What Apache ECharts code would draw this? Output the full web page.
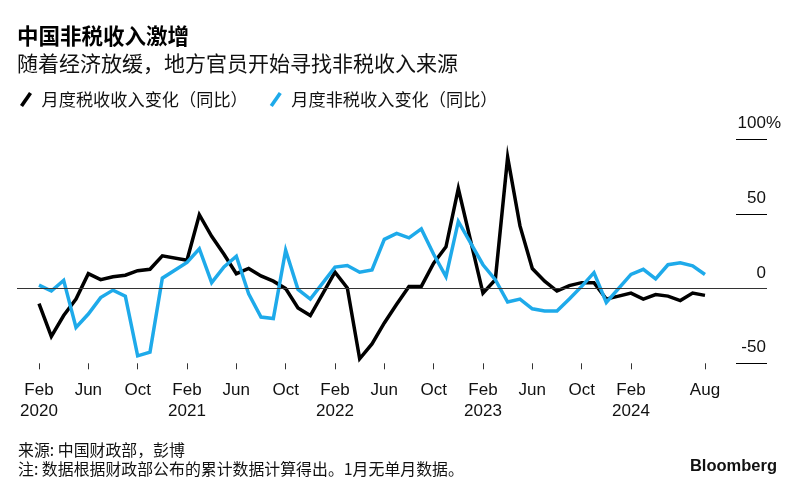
<!DOCTYPE html>
<html><head><meta charset="utf-8">
<script src="https://cdn.jsdelivr.net/npm/echarts@6/dist/echarts.min.js"></script>
<style>html,body{margin:0;padding:0;background:#fff}#c{width:800px;height:495px}</style>
</head><body><div id="c"></div>
<script>
// Months with data (January has no single-month figure)
const months = [
  '2020-02','2020-03','2020-04','2020-05','2020-06','2020-07','2020-08','2020-09','2020-10','2020-11','2020-12',
  '2021-02','2021-03','2021-04','2021-05','2021-06','2021-07','2021-08','2021-09','2021-10','2021-11','2021-12',
  '2022-02','2022-03','2022-04','2022-05','2022-06','2022-07','2022-08','2022-09','2022-10','2022-11','2022-12',
  '2023-02','2023-03','2023-04','2023-05','2023-06','2023-07','2023-08','2023-09','2023-10','2023-11','2023-12',
  '2024-02','2024-03','2024-04','2024-05','2024-06','2024-07','2024-08'
];
// 月度税收收入变化（同比）
const taxRevenue = [
  -10, -32, -18, -7, 10, 6, 8, 9, 12, 13, 22,
  19, 49.5, 35, 23, 10, 13.5, 8.5, 5, 0, -13, -18,
  11, 0.5, -47, -37, -23, -10.5, 1.5, 1.5, 17, 28, 67,
  -3, 6, 88, 42, 13.5, 5, -1.6, 2, 4, 4, -7,
  -3, -7, -4, -5, -8, -3, -4.5
];
// 月度非税收入变化（同比）
const nonTaxRevenue = [
  2.3, -1.6, 5.5, -26, -17, -6, -1, -5, -45, -42.5, 7,
  17.5, 26.7, 4, 14.5, 21.7, -3.5, -19, -20, 25.7, -0.5, -7,
  14.4, 15.5, 11, 12.5, 33, 37, 34, 40, 23, 8, 45,
  16, 6, -9, -7, -13.5, -15, -15, -7, 1.5, 10.7, -9.3,
  9.5, 12.9, 6.5, 16, 17.3, 15.3, 9.5
];
const tickMonths = ['2020-02','2020-06','2020-10','2021-02','2021-06','2021-10','2022-02','2022-06','2022-10','2023-02','2023-06','2023-10','2024-02','2024-08'];
const tickLabels = ['Feb\n2020','Jun','Oct','Feb\n2021','Jun','Oct','Feb\n2022','Jun','Oct','Feb\n2023','Jun','Oct','Feb\n2024','Aug'];
const yTicks = [-50, 0, 50, 100];

const seriesNames = ['月度税收收入变化（同比）', '月度非税收入变化（同比）'];
const titleText = '中国非税收入激增';
const subtitleText = '随着经济放缓，地方官员开始寻找非税收入来源';
const sourceText = '来源: 中国财政部，彭博';
const noteText = '注: 数据根据财政部公布的累计数据计算得出。1月无单月数据。';

function monthIndex(s) {
  const [y, m] = s.split('-').map(Number);
  return (y - 2020) * 12 + (m - 2);
}
const tickIdx = tickMonths.map(monthIndex);

const CJK = '"Noto Sans CJK SC", "Noto Sans", sans-serif';
const LAT = '"Liberation Sans", Arial, sans-serif';
const BLUE = '#1EAAEA';

const chart = echarts.init(document.getElementById('c'), null, {renderer: 'canvas'});
chart.setOption({
  animation: false,
  backgroundColor: '#fff',
  title: [
    {text: titleText, left: 17, top: 25, padding: 0,
     textStyle: {fontFamily: CJK, fontSize: 21.5, fontWeight: 'bold', color: '#000'}},
    {text: subtitleText, left: 17, top: 53, padding: 0,
     textStyle: {fontFamily: CJK, fontSize: 21, fontWeight: 'normal', color: '#111'}}
  ],
  legend: {
    data: seriesNames,
    left: 20, top: 91, padding: 0,
    itemWidth: 13, itemHeight: 15, itemGap: 22,
    icon: 'path://M0,13 L9,0 L12,2 L3,15 Z',
    itemStyle: {borderWidth: 0},
    textStyle: {fontFamily: CJK, fontSize: 17.2, color: '#111', padding: [0, 0, 0, 4]}
  },
  grid: {left: 17, right: 33, top: 139.3, bottom: 131.7},
  xAxis: {
    type: 'value',
    min: -1.784, max: 59.03,
    axisLine: {show: false, onZero: false},
    splitLine: {show: false},
    axisTick: {show: true, customValues: tickIdx, length: 6, lineStyle: {color: '#333', width: 1}},
    axisLabel: {
      customValues: tickIdx,
      margin: 17,
      fontFamily: LAT, fontSize: 17, color: '#111', lineHeight: 21,
      formatter: v => tickLabels[tickIdx.indexOf(v)] || ''
    }
  },
  yAxis: {
    type: 'value',
    position: 'right',
    min: -50, max: 100, interval: 50,
    axisLine: {show: false, onZero: false},
    splitLine: {show: false},
    axisTick: {show: true, inside: true, length: 31, lineStyle: {color: '#000', width: 1}},
    axisLabel: {
      inside: true,
      margin: -14,
      verticalAlign: 'bottom',
      fontFamily: LAT, fontSize: 17, color: '#111',
      padding: [0, 0, 7, 0],
      formatter: v => v === 100 ? '{n|' + v + '}{p|%}' : '{n|' + v + '}{h|%}',
      rich: {
        n: {fontFamily: LAT, fontSize: 17, color: '#111'},
        p: {fontFamily: LAT, fontSize: 17, color: '#111'},
        h: {fontFamily: LAT, fontSize: 17, color: 'rgba(0,0,0,0)'}
      }
    }
  },
  series: [
    {
      name: 'zero', type: 'line', data: [], z: 1, silent: true,
      markLine: {
        silent: true, symbol: 'none', label: {show: false},
        lineStyle: {color: '#333', width: 1, type: 'solid'},
        data: [{yAxis: 0}]
      }
    },
    {
      name: seriesNames[0], type: 'line', z: 3,
      showSymbol: false, symbol: 'none',
      color: '#000',
      lineStyle: {color: '#000', width: 3.5, join: 'miter'},
      data: months.map((m, i) => [monthIndex(m), taxRevenue[i]])
    },
    {
      name: seriesNames[1], type: 'line', z: 4,
      showSymbol: false, symbol: 'none',
      color: BLUE,
      lineStyle: {color: BLUE, width: 3.5, join: 'miter'},
      data: months.map((m, i) => [monthIndex(m), nonTaxRevenue[i]])
    }
  ],
  graphic: [
    {type: 'text', left: 18, top: 442, style: {text: sourceText, font: '15.9px ' + CJK, fill: '#111'}},
    {type: 'text', left: 18, top: 461, style: {text: noteText, font: '15.9px ' + CJK, fill: '#111'}},
    {type: 'text', right: 23, top: 458, style: {text: 'Bloomberg', font: 'bold 16.5px ' + LAT, fill: '#111'}}
  ]
});
</script></body></html>
